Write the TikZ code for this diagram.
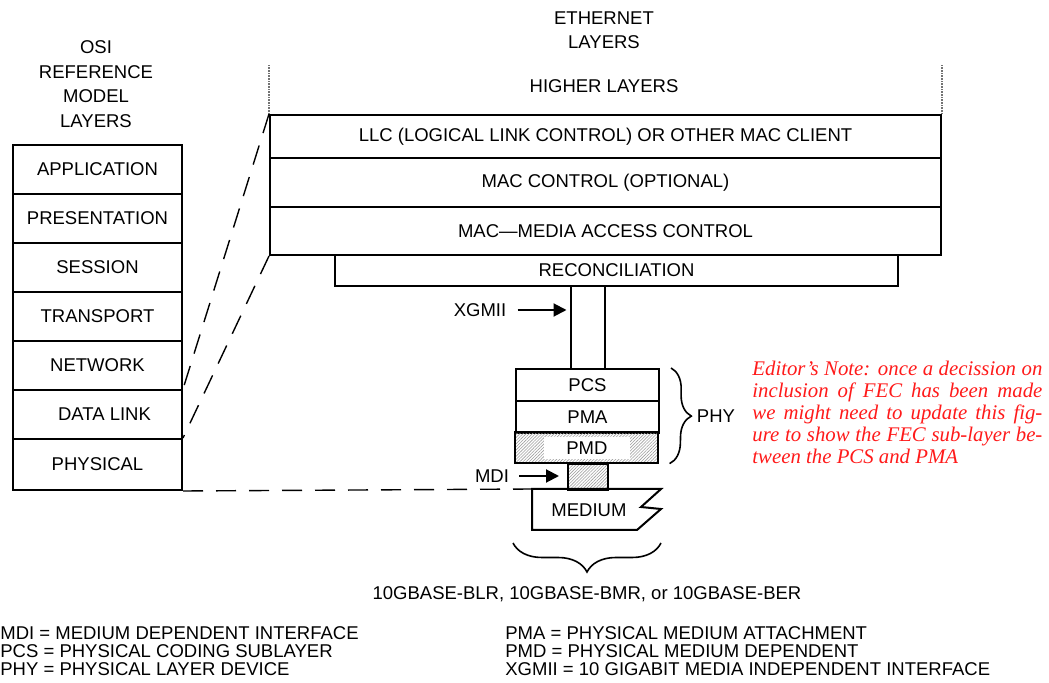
\documentclass[tikz,border=0pt]{standalone}
\usepackage{fontspec}
\setmainfont{Liberation Sans}
\newfontfamily\notefont{Liberation Serif}
\usetikzlibrary{arrows.meta,calc,decorations.pathreplacing,patterns.meta}
\definecolor{notered}{HTML}{FF1A1A}
\definecolor{hatch}{HTML}{9E9E9E}

\begin{document}
\begin{tikzpicture}[
 x=0.5pt,y=0.5pt,
 every node/.style={align=center,inner sep=0pt,font=\fontsize{9.25}{12.25}\selectfont},
 lbox/.style={draw,line width=1pt,anchor=north west},
 osibox/.style={lbox,minimum width=84.5pt,minimum height=24.5pt},
 ethbox/.style={lbox,minimum width=335.5pt},
 phybox/.style={lbox,minimum width=71.5pt,minimum height=16pt},
 hatched/.style={pattern={Lines[angle=45,distance=1.1pt,line width=0.3pt]},pattern color=hatch},
 ltie/.style={line width=0.7pt,dash pattern=on 10pt off 6.5pt},
 lptr/.style={-{Triangle[length=6.5pt,width=6.5pt]},line width=1pt},
 lbrace/.style={decorate,line width=0.8pt,decoration={brace,amplitude=#1}}]
\useasboundingbox (0,0) rectangle (1049,-683);
\node (osititle) at (96,-84) {OSI\\REFERENCE\\MODEL\\LAYERS};
\node (ethtitle) at (604,-30) {ETHERNET\\LAYERS};
\node[osibox] (app) at (12,-144) {APPLICATION};
\node[osibox] (pres) at (12,-193) {PRESENTATION};
\node[osibox] (sess) at (12,-242) {SESSION};
\node[osibox] (trans) at (12,-291) {TRANSPORT};
\node[osibox] (net) at (12,-340) {NETWORK};
\node[osibox] (dlink) at (12,-389) {\hspace{7pt}DATA LINK};
\node[osibox,minimum height=25.5pt] (phys) at (12,-438) {PHYSICAL};
\node (higher) at (604,-86) {HIGHER LAYERS};
\node[ethbox,minimum height=21.5pt] (llc) at (269,-114) {LLC (LOGICAL LINK CONTROL) OR OTHER MAC CLIENT};
\node[ethbox,minimum height=24.5pt] (macctl) at (269,-157) {MAC CONTROL (OPTIONAL)};
\node[ethbox,minimum height=24pt] (mac) at (269,-206) {MAC—MEDIA ACCESS CONTROL};
\node[lbox,minimum width=281.5pt,minimum height=15.5pt] (recon) at (334,-254) {RECONCILIATION};
\draw[black!55,line width=1.1pt,dash pattern=on 0.5pt off 0.3pt]
 (llc.north west) -- ++(0,49) (llc.north east) -- ++(0,49);
\node[phybox] (pcs) at (515,-368) {PCS};
\node[phybox] (pma) at (515,-400) {PMA};
\node[phybox,minimum height=15.5pt,hatched] (pmd) at (515,-432) {};
\node[fill=white,minimum width=43pt,minimum height=11pt] (pmdtext) at (pmd.center) {PMD};
\node[lbox,anchor=north,hatched,minimum width=20pt,minimum height=13pt] (mdibox) at (588,-463) {};
\coordinate (pipel) at ($(pcs.north)+(-17,0)$);
\coordinate (piper) at ($(pcs.north)+(17,0)$);
\draw[line width=1pt] (pipel) -- (pipel |- recon.south) (piper) -- (piper |- recon.south);
\node (xgmii) at (480,-310) {XGMII};
\draw[lptr,shorten >=2pt] ($(xgmii.east)+(11,0)$) -- (xgmii.east -| pipel);
\coordinate (mednw) at (532,-489);
\draw[line width=1pt] (mednw) -- ++(129,0) -- ++(-20,-18) -- ++(20,-2) -- ++(-24,-21) -- ++(-105,0) -- cycle;
\node (medium) at (589,-510) {MEDIUM};
\node (mdi) at (492,-476) {MDI};
\draw[lptr,shorten >=4pt] ($(mdi.east)+(10,0)$) -- (mdi.east -| mdibox.west);
\draw[ltie] (llc.north west) -- (dlink.north east);
\draw[ltie] (mac.south west) -- (phys.north east);
\draw[ltie] (phys.south east) -- (mednw);
\draw[lbrace=10.5pt] ($(pcs.north east)+(11,0)$) -- ($(pmd.south east)+(11,0)$);
\node (phylabel) at (716,-416) {PHY};
\draw[lbrace=14.5pt] (661,-543) -- (513,-543);
\node (variants) at (587,-594) {10GBASE-BLR, 10GBASE-BMR, or 10GBASE-BER};
\node[anchor=north west,text width=145pt,align=justify,text=notered,
 font=\notefont\itshape\fontsize{10.4}{11}\selectfont] (note) at (752,-361)
 {\tolerance=10000 Editor’s Note: once a decission on\linebreak
 inclusion of FEC has been made\linebreak
 we might need to update this fig-\linebreak
 ure to show the FEC sub-layer be-\linebreak
 tween the PCS and PMA};
\node[anchor=west,align=left,font=\fontsize{9.25}{9}\selectfont] (legendl) at (0,-651)
 {MDI = MEDIUM DEPENDENT INTERFACE\\PCS = PHYSICAL CODING SUBLAYER\\PHY = PHYSICAL LAYER DEVICE};
\node[anchor=west,align=left,font=\fontsize{9.25}{9}\selectfont] (legendr) at (505,-651)
 {PMA = PHYSICAL MEDIUM ATTACHMENT\\PMD = PHYSICAL MEDIUM DEPENDENT\\XGMII = 10 GIGABIT MEDIA INDEPENDENT INTERFACE};
\end{tikzpicture}
\end{document}
